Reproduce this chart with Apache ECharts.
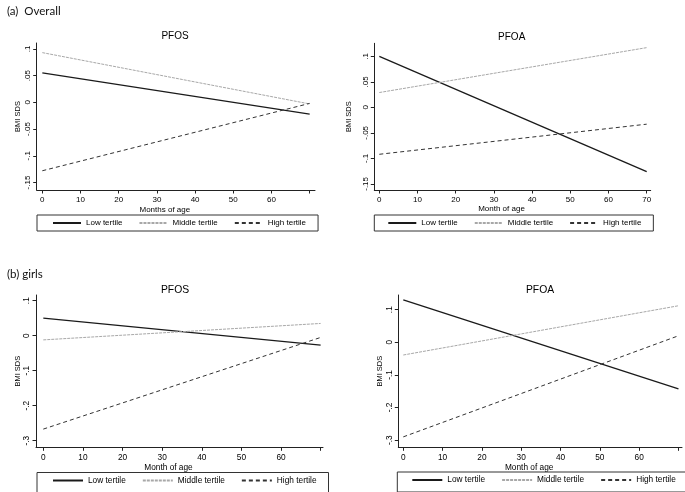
<!DOCTYPE html>
<html>
<head>
<meta charset="utf-8">
<script src="https://cdn.jsdelivr.net/npm/echarts@6/dist/echarts.min.js"></script>
<style>html,body{margin:0;padding:0;background:#fff}#c{width:685px;height:492px}</style>
</head>
<body>
<div id="c"></div>
<script>
// Data (months of age at line endpoints)
const months = [0, 70];
const seriesNames = ['Low tertile', 'Middle tertile', 'High tertile'];
const panelTitles = ['PFOS', 'PFOA', 'PFOS', 'PFOA'];
const xNames = ['Months of age', 'Month of age', 'Month of age', 'Month of age'];
const sectionLabels = ['(a)  Overall', '(b) girls'];

// BMI SDS values at 0 and 70 months
const overallPFOS_low = [0.055, -0.022];
const overallPFOS_mid = [0.093, -0.003];
const overallPFOS_high = [-0.128, -0.002];
const overallPFOA_low = [0.100, -0.126];
const overallPFOA_mid = [0.029, 0.117];
const overallPFOA_high = [-0.092, -0.033];
const girlsPFOS_low = [0.050, -0.027];
const girlsPFOS_mid = [-0.012, 0.035];
const girlsPFOS_high = [-0.267, -0.005];
const girlsPFOA_low = [0.130, -0.143];
const girlsPFOA_mid = [-0.039, 0.112];
const girlsPFOA_high = [-0.290, 0.020];

// Tick values
const xTicks = [0, 10, 20, 30, 40, 50, 60, 70];
const xLabelsTopLeft = [0, 10, 20, 30, 40, 50, 60];
const xLabelsTopRight = [0, 10, 20, 30, 40, 50, 60, 70];
const yTicksOverall = [-0.15, -0.1, -0.05, 0, 0.05, 0.1];
const yTicksGirls = [-0.3, -0.2, -0.1, 0, 0.1];

const panelData = [
  [overallPFOS_low, overallPFOS_mid, overallPFOS_high],
  [overallPFOA_low, overallPFOA_mid, overallPFOA_high],
  [girlsPFOS_low, girlsPFOS_mid, girlsPFOS_high],
  [girlsPFOA_low, girlsPFOA_mid, girlsPFOA_high]
];

// Layout (pixels)
const layout = [
  {left: 36.7, width: 278.3, top: 43, height: 147, xmin: -1.47, xmax: 71.4, ymin: -0.164, ymax: 0.111,
   yTicks: yTicksOverall, xLabels: xLabelsTopLeft, titleX: 170, titleY: 26, nameGap: 16, yNameGap: 14.5, fs: 8,
   legend: {left: 37, top: 215, padding: [4, 12, 4, 15]}, iconW: 28},
  {left: 374.3, width: 276.4, top: 43.3, height: 146.7, xmin: -1.31, xmax: 71.05, ymin: -0.162, ymax: 0.1255,
   yTicks: yTicksOverall, xLabels: xLabelsTopRight, titleX: 506.7, titleY: 27.5, nameGap: 15, yNameGap: 21, fs: 8,
   legend: {left: 374.3, top: 215, padding: [4, 12, 4, 13]}, iconW: 28},
  {left: 36, width: 287, top: 295, height: 152.3, xmin: -1.84, xmax: 70.6, ymin: -0.319, ymax: 0.1163,
   yTicks: yTicksGirls, xLabels: xLabelsTopLeft, titleX: 170, titleY: 280, nameGap: 16, yNameGap: 11, fs: 8.3,
   legend: {left: 37, top: 472.5, padding: [4, 12, 8, 15]}, iconW: 30},
  {left: 398.3, width: 283.7, top: 295, height: 152.3, xmin: -1.27, xmax: 70.9, ymin: -0.322, ymax: 0.145,
   yTicks: yTicksGirls, xLabels: xLabelsTopLeft, titleX: 535, titleY: 280, nameGap: 16, yNameGap: 12.5, fs: 8.3,
   legend: {left: 397.3, top: 472, padding: [4, 10, 8, 14]}, iconW: 30}
];

const lineStyles = [
  {color: '#1a1a1a', width: 1.3, type: 'solid'},
  {color: '#a8a8a8', width: 1, type: [3, 1]},
  {color: '#333333', width: 1, type: [4, 3]}
];

const FONT = 'Liberation Sans, Arial, sans-serif';
const fmtY = v => {
  const s = String(Math.round(v * 1000) / 1000);
  return s.replace(/^0\./, '.').replace(/^-0\./, '-.');
};

const grids = [], xAxes = [], yAxes = [], series = [], titles = [], legends = [];
layout.forEach((L, i) => {
  grids.push({left: L.left, top: L.top, width: L.width, height: L.height, containLabel: false});
  xAxes.push({
    type: 'value', gridIndex: i, min: L.xmin, max: L.xmax,
    name: xNames[i], nameLocation: 'middle', nameGap: L.nameGap,
    nameTextStyle: {fontFamily: FONT, fontSize: L.fs, color: '#000', padding: [0, 22, 0, 0]},
    axisLine: {show: true, onZero: false, lineStyle: {color: '#222', width: 1}},
    axisTick: {show: true, length: 3.5, lineStyle: {color: '#222'}, customValues: xTicks},
    axisLabel: {fontFamily: FONT, fontSize: L.fs, color: '#000', margin: 6, customValues: L.xLabels},
    splitLine: {show: false}
  });
  yAxes.push({
    type: 'value', gridIndex: i, min: L.ymin, max: L.ymax,
    name: 'BMI SDS', nameLocation: 'middle', nameGap: L.yNameGap, nameRotate: 90,
    nameTextStyle: {fontFamily: FONT, fontSize: 7.5, color: '#000'},
    axisLine: {show: true, onZero: false, lineStyle: {color: '#222', width: 1}},
    axisTick: {show: true, length: 3.5, lineStyle: {color: '#222'}, customValues: L.yTicks},
    axisLabel: {fontFamily: FONT, fontSize: L.fs, color: '#000', rotate: 90, margin: 5,
      customValues: L.yTicks, formatter: fmtY},
    splitLine: {show: false}
  });
  titles.push({
    text: panelTitles[i], left: L.titleX, top: L.titleY, textAlign: 'center',
    textStyle: {fontFamily: FONT, fontSize: L.fs * 1.25, fontWeight: 'normal', color: '#000'}
  });
  legends.push({
    data: seriesNames, left: L.legend.left, top: L.legend.top, padding: L.legend.padding,
    width: 400,
    orient: 'horizontal', itemWidth: L.iconW, itemHeight: 9, itemGap: 16,
    itemStyle: {opacity: 0},
    borderColor: '#333', borderWidth: 1, borderRadius: 0,
    textStyle: {fontFamily: FONT, fontSize: L.fs, color: '#000'},
    selectedMode: false
  });
  seriesNames.forEach((nm, k) => {
    series.push({
      type: 'line', name: nm, xAxisIndex: i, yAxisIndex: i,
      data: months.map((m, j) => [m, panelData[i][k][j]]),
      symbol: 'none', showSymbol: false, silent: true, animation: false,
      lineStyle: lineStyles[k], itemStyle: {color: lineStyles[k].color}
    });
  });
});

titles.push({text: sectionLabels[0], left: 2, top: 0,
  textStyle: {fontFamily: 'Lato, Open Sans, sans-serif', fontSize: 11.5, fontWeight: 'normal', color: '#111'}});
titles.push({text: sectionLabels[1], left: 2, top: 263,
  textStyle: {fontFamily: 'Lato, Open Sans, sans-serif', fontSize: 11.5, fontWeight: 'normal', color: '#111'}});

const chart = echarts.init(document.getElementById('c'), null, {renderer: 'canvas'});
chart.setOption({
  backgroundColor: '#fff',
  animation: false,
  title: titles,
  legend: legends,
  grid: grids,
  xAxis: xAxes,
  yAxis: yAxes,
  series: series
});
</script>
</body>
</html>
